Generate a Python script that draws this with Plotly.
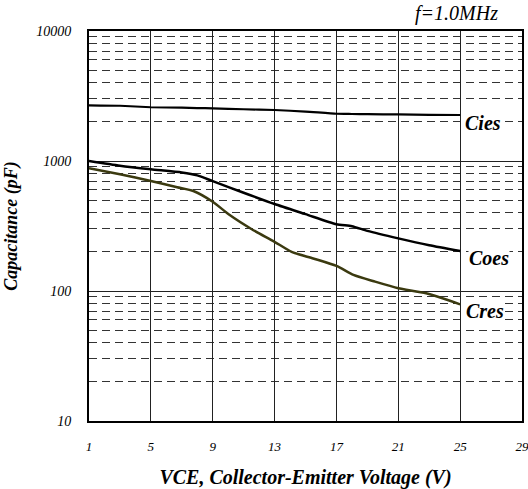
import math
import plotly.graph_objects as go

vce = [1, 3, 5, 7, 8, 9, 11, 13, 15, 17, 18, 19, 21, 23, 25]
cies = [2680, 2660, 2590, 2570, 2555, 2540, 2500, 2467, 2400, 2310, 2300, 2290, 2280, 2265, 2258]
coes_x = [1, 3, 5, 7, 8, 9, 11, 13, 15, 17, 18, 19, 21, 23, 25]
coes = [1000, 920, 863, 815, 775, 700, 570, 467, 390, 326, 315, 290, 254, 225, 203]
cres_x = [1, 3, 5, 6.7, 7.75, 9, 10.1, 11.5, 13, 14.1, 15.5, 17, 18.1, 19.5, 21, 22.8, 25]
cres = [879, 790, 702, 628, 588, 486, 384, 300, 239, 200, 178, 156, 133, 118, 105, 96, 79]

xticks = [1, 5, 9, 13, 17, 21, 25, 29]
yticks = [10, 100, 1000, 10000]
ytick_text = ["10", "100", "1000", "10000"]

labels = ["Cies", "Coes", "Cres"]
label_x = [25.25, 25.5, 25.3]
label_y = [1960, 179, 70]

SERIF = "Liberation Serif"

fig = go.Figure()
fig.add_trace(go.Scatter(x=vce, y=cies, mode="lines", line=dict(color="#000000", width=2.2, shape="spline", smoothing=0.5), showlegend=False))
fig.add_trace(go.Scatter(x=coes_x, y=coes, mode="lines", line=dict(color="#000000", width=2.5, shape="spline", smoothing=0.6), showlegend=False))
fig.add_trace(go.Scatter(x=cres_x, y=cres, mode="lines", line=dict(color="#3b3a10", width=2.5, shape="spline", smoothing=0.6), showlegend=False))

for t, xx, yy in zip(labels, label_x, label_y):
    fig.add_annotation(x=xx, y=math.log10(yy), yref="y", xref="x", text="<b><i>%s</i></b>" % t, showarrow=False,
                       xanchor="left", yanchor="middle", bgcolor="white", borderpad=0,
                       font=dict(family=SERIF, size=20, color="black"))

fig.add_annotation(x=1.0, y=1.0, xref="paper", yref="paper", xshift=-22, yshift=4, text="<i>f=1.0MHz</i>", showarrow=False,
                   xanchor="right", yanchor="bottom", font=dict(family=SERIF, size=20, color="black"))

fig.update_layout(
    width=528, height=489,
    margin=dict(l=89, r=6, t=31, b=68, autoexpand=False),
    paper_bgcolor="white", plot_bgcolor="white",
    font=dict(family=SERIF, color="black"),
    xaxis=dict(range=[1, 29], tickvals=xticks, ticktext=[str(v) for v in xticks],
               showgrid=True, gridcolor="#222222", gridwidth=1, zeroline=False,
               showline=True, linecolor="black", linewidth=2, mirror=True,
               ticks="", ticklabelstandoff=12, automargin=False, ticklabeloverflow="allow",
               tickfont=dict(family=SERIF, size=13, style="italic"),
               title=dict(text="<b><i>VCE, Collector-Emitter Voltage (V)</i></b>", standoff=19,
                          font=dict(family=SERIF, size=20))),
    yaxis=dict(type="log", range=[1, 4], tickvals=yticks, ticktext=ytick_text,
               showgrid=True, gridcolor="#222222", gridwidth=1, zeroline=False,
               showline=True, linecolor="black", linewidth=2, mirror=True,
               ticks="", ticklabelstandoff=13, automargin=False,
               tickfont=dict(family=SERIF, size=14, style="italic"),
               minor=dict(dtick="D1", showgrid=True, griddash="8px,5px", gridcolor="#333333", gridwidth=1, ticks=""),
               title=dict(text="<b><i>Capacitance (pF)</i></b>", standoff=14,
                          font=dict(family=SERIF, size=18))),
)

fig.write_html("out.html", config={"displayModeBar": False},
               post_script="document.body.style.margin='0';document.body.style.overflow='hidden';")
